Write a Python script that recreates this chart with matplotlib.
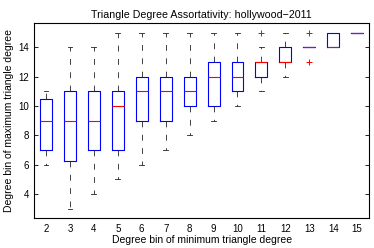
import matplotlib
matplotlib.use("Agg")
import matplotlib.pyplot as plt

# bins of minimum triangle degree
labels = ["2", "3", "4", "5", "6", "7", "8", "9", "10", "11", "12", "13", "14", "15"]
whislo = [6, 3, 4, 5, 6, 7, 8, 9, 10, 11, 12, 14, 14, 15]
q1     = [7, 6.25, 7, 7, 9, 9, 10, 10, 11, 12, 13, 14, 14, 15]
med    = [9, 9, 9, 10, 11, 11, 11, 12, 12, 13, 13, 14, 14, 15]
q3     = [10.5, 11, 11, 11, 12, 12, 12, 13, 13, 13, 14, 14, 15, 15]
whishi = [11, 14, 14, 15, 15, 15, 15, 15, 15, 14, 15, 14, 15, 15]
fliers = [[], [], [], [], [], [], [], [], [], [15], [], [13, 15], [], []]

plt.rcParams['font.family'] = ['Liberation Sans', 'DejaVu Sans']

stats = []
for i in range(len(labels)):
    stats.append(dict(label=labels[i], whislo=whislo[i], q1=q1[i], med=med[i],
                      q3=q3[i], whishi=whishi[i], fliers=fliers[i]))

fig = plt.figure(figsize=(3.74, 2.48), dpi=100)
ax = fig.add_axes([0.091, 0.121, 0.896, 0.786])

ax.bxp(stats, widths=0.5, capwidths=0.2,
       boxprops=dict(color='#0000ff', linewidth=0.8),
       medianprops=dict(color='#ff0000', linewidth=0.8),
       whiskerprops=dict(color='#222222', linestyle=(0, (7, 9)), linewidth=0.6),
       capprops=dict(color='#222222', linewidth=0.6),
       flierprops=dict(marker='+', markeredgecolor='#ff0000', markersize=5,
                       linestyle='none', markeredgewidth=0.7))

ax.set_xlim(0.5, 14.5)
ax.set_ylim(2.36, 15.66)
ax.set_yticks([4, 6, 8, 10, 12, 14])
ax.tick_params(axis='y', direction='in', right=True, length=3, labelsize=7, width=0.6)
ax.tick_params(axis='x', length=0, labelsize=7, pad=4)
for s in ax.spines.values():
    s.set_linewidth(0.8)

ax.set_title("Triangle Degree Assortativity: hollywood\u22122011", fontsize=7.7, pad=4)
ax.set_xlabel("Degree bin of minimum triangle degree", fontsize=7.5, labelpad=1)
ax.set_ylabel("Degree bin of maximum triangle degree", fontsize=7.5, labelpad=3)

fig.savefig("out.png", dpi=100)
